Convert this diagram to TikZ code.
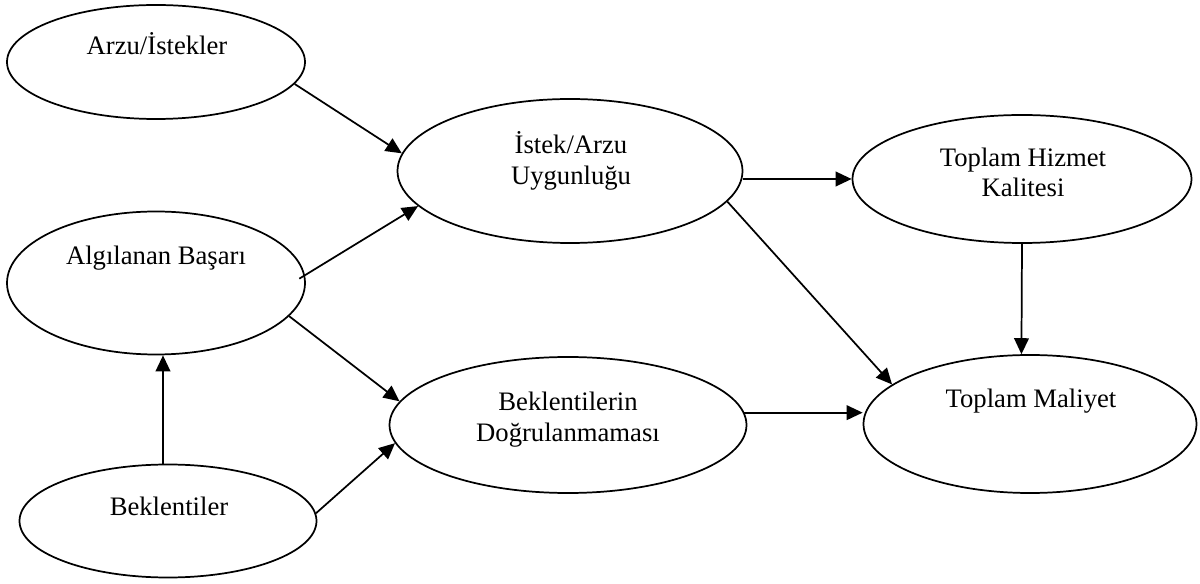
\documentclass[tikz,border=0pt]{standalone}
\usepackage{fontspec}
\setmainfont{Liberation Serif}
\usetikzlibrary{shapes.geometric,arrows.meta}

\tikzset{every picture/.style={line width=1.3pt}}
\tikzset{oval/.style={ellipse,draw,inner sep=0pt},
  arr/.style={-{Triangle[length=12pt,width=11pt]}},
  lbl/.style={font=\fontsize{20pt}{23pt}\selectfont,align=center,inner sep=0pt}}

\begin{document}
\begin{tikzpicture}[x=0.75pt,y=0.75pt,yscale=-1,xscale=1]
\path[use as bounding box] (0,0) rectangle (1200,584); %set diagram size to 1200 x 584

% Ellipse
\node[oval,minimum width=223.5pt,minimum height=85.5pt] (arzu) at (156,62) {};
% Ellipse
\node[oval,minimum width=223.5pt,minimum height=107.25pt] (algi) at (156,283) {};
% Ellipse
\node[oval,minimum width=222.75pt,minimum height=84.75pt] (bekl) at (168,521) {};
% Ellipse
\node[oval,minimum width=258.75pt,minimum height=108pt] (istek) at (570,171) {};
% Ellipse
\node[oval,minimum width=267.75pt,minimum height=102pt] (dogru) at (568,425) {};
% Ellipse
\node[oval,minimum width=254.25pt,minimum height=96pt] (hizmet) at (1022,179) {};
% Ellipse
\node[oval,minimum width=249.75pt,minimum height=103.5pt] (maliyet) at (1030,424) {};

% Text Node
\node[lbl,anchor=base] (tarzu) at (157,55) {Arzu/İstekler};
% Text Node
\node[lbl,anchor=base] (talgi) at (156,265) {Algılanan Başarı};
% Text Node
\node[lbl,anchor=base] (tbekl) at (169,515) {Beklentiler};
% Text Node
\node[lbl] (tistek) at (571,161) {İstek/Arzu\\Uygunluğu};
% Text Node
\node[lbl] (tdogru) at (568,419.5) {Beklentilerin\\Doğrulanmaması};
% Text Node
\node[lbl] (thizmet) at (1023,172.5) {Toplam Hizmet\\Kalitesi};
% Text Node
\node[lbl,anchor=base] (tmaliyet) at (1031,408) {Toplam Maliyet};

% Arrows
\draw[arr] (arzu.-9.5) -- (istek.174);
\draw[arr,shorten <=-5pt] (algi.3) -- (istek.-167);
\draw[arr] (algi.-14.5) -- (dogru.172);
\draw[arr] (bekl.95) -- (bekl.95 |- algi.south);
\draw[arr] (bekl.3.5) -- (dogru.-174);
\draw[arr] (istek.east |- hizmet.west) -- (hizmet.west);
\draw[arr] (istek.-11.7) -- (maliyet.164.7);
\draw[arr] (hizmet.south) -- (maliyet.97);
\draw[arr] (dogru.4) -- (dogru.4 -| maliyet.west);

\end{tikzpicture}
\end{document}
